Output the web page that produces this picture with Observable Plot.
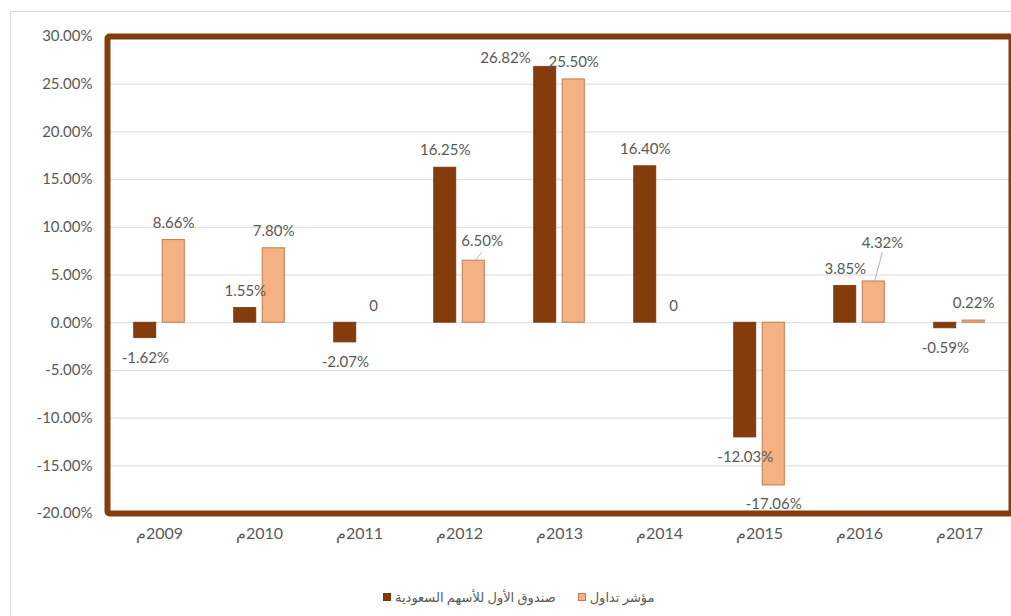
<!DOCTYPE html>
<html>
<head>
<meta charset="utf-8">
<script src="https://cdn.jsdelivr.net/npm/d3@7"></script>
<script src="https://cdn.jsdelivr.net/npm/@observablehq/plot@0.6"></script>
<style>
  html, body { margin: 0; padding: 0; background: #fff; overflow: hidden; }
  #wrap { position: relative; width: 1011px; height: 616px; font-family: Lato, "DejaVu Sans", sans-serif; color: #595959; }
  #outer { position: absolute; left: 10px; top: 11px; width: 1010px; height: 610px; border-top: 1px solid #d9d9d9; border-left: 1px solid #d9d9d9; }
  #chart { position: absolute; left: 0; top: 0; }
  #chart g[aria-label="x-axis tick label"] { font-size: 16px; }
  #legend { position: absolute; left: 383px; top: 587px; height: 20px; display: flex; align-items: center; font-size: 13px; white-space: nowrap; }
  #legend .sw { display: inline-block; width: 8px; height: 8px; box-sizing: border-box; margin-right: 4px; }
  #legend .item { display: flex; align-items: center; }
  #legend .item + .item { margin-left: 22px; }
</style>
</head>
<body>
<div id="wrap">
  <div id="outer"></div>
  <div id="chart"></div>
  <div id="legend"></div>
</div>
<script>
const years = ["2009م", "2010م", "2011م", "2012م", "2013م", "2014م", "2015م", "2016م", "2017م"];
const fundName = "صندوق الأول للأسهم السعودية";
const indexName = "مؤشر تداول";
const fundValues = [-1.62, 1.55, -2.07, 16.25, 26.82, 16.40, -12.03, 3.85, -0.59];
const indexValues = [8.66, 7.80, 0, 6.50, 25.50, 0, -17.06, 4.32, 0.22];
const yTicks = [-20, -15, -10, -5, 0, 5, 10, 15, 20, 25, 30];

const darkColor = "#843C0C";
const lightColor = "#F4B183";

const fundRows = years.map((year, i) => ({year, series: fundName, value: fundValues[i]}));
const indexRows = years.map((year, i) => ({year, series: indexName, value: indexValues[i]}));

const fmt = d => d.value === 0 ? "0" : d.value.toFixed(2) + "%";
const labelFill = "#595959";
const off = 14.2;

const leaderShape = { draw(ctx, l) { ctx.moveTo(0, 0); ctx.lineTo(0, -l); } };

const chart = Plot.plot({
  width: 1011,
  height: 560,
  marginLeft: 107,
  marginRight: 0,
  marginTop: 36,
  marginBottom: 47,
  style: { fontFamily: "Lato, 'DejaVu Sans', sans-serif", fontSize: "15px", color: "#595959", background: "transparent" },
  x: { domain: years, padding: 0, tickSize: 0, tickPadding: 14, label: null, tickFormat: d => "\u200F" + d },
  y: { domain: [-20, 30], ticks: yTicks, tickSize: 0, tickPadding: 15, label: null, tickFormat: d => d.toFixed(2) + "%" },
  marks: [
    Plot.ruleY(yTicks, { stroke: "#d9d9d9", strokeOpacity: 1, strokeWidth: 1 }),
    Plot.barY(fundRows, { x: "year", y: "value", fill: darkColor, stroke: "#7a3510", strokeWidth: 0.8, insetLeft: 24.7, insetRight: 53.2 }),
    Plot.barY(indexRows, { x: "year", y: "value", fill: lightColor, stroke: "#c27b4f", strokeWidth: 1, insetLeft: 53.2, insetRight: 24.7 }),
    // fund labels
    Plot.text(fundRows.filter(d => d.value >= 0 && d.year !== "2013م"), { x: "year", y: "value", text: fmt, dx: -off, dy: -17, fill: labelFill }),
    Plot.text(fundRows.filter(d => d.value < 0), { x: "year", y: "value", text: fmt, dx: -off, dy: 20, fill: labelFill }),
    Plot.text(fundRows.filter(d => d.year === "2013م"), { x: "year", y: "value", text: fmt, dx: -54, dy: -9, fill: labelFill }),
    // index labels
    Plot.text(indexRows.filter(d => d.value >= 0 && d.year !== "2012م" && d.year !== "2016م"), { x: "year", y: "value", text: fmt, dx: off, dy: -17, fill: labelFill }),
    Plot.text(indexRows.filter(d => d.value < 0), { x: "year", y: "value", text: fmt, dx: off, dy: 19, fill: labelFill }),
    Plot.text(indexRows.filter(d => d.year === "2012م"), { x: "year", y: "value", text: fmt, dx: 22.6, dy: -20, fill: labelFill }),
    Plot.text(indexRows.filter(d => d.year === "2016م"), { x: "year", y: "value", text: fmt, dx: 23, dy: -38, fill: labelFill }),
    // leader lines
    Plot.vector(indexRows.filter(d => d.year === "2012م"), { x: "year", y: "value", dx: 15.5, length: 10.7, rotate: 39, anchor: "start", stroke: "#a6a6a6", strokeWidth: 0.8, shape: leaderShape }),
    Plot.vector(indexRows.filter(d => d.year === "2016م"), { x: "year", y: "value", dx: 15, length: 30, rotate: 15, anchor: "start", stroke: "#a6a6a6", strokeWidth: 0.8, shape: leaderShape }),
    Plot.frame({ stroke: darkColor, strokeWidth: 6, rx: 2 })
  ]
});
document.getElementById("chart").appendChild(chart);

const legend = document.getElementById("legend");
[[fundName, darkColor, "#7a3510"], [indexName, lightColor, "#c27b4f"]].forEach(([name, fill, stroke]) => {
  const item = document.createElement("span");
  item.className = "item";
  const sw = document.createElement("span");
  sw.className = "sw";
  sw.style.background = fill;
  sw.style.border = "1px solid " + stroke;
  const t = document.createElement("span");
  t.textContent = name;
  item.appendChild(sw);
  item.appendChild(t);
  legend.appendChild(item);
});
</script>
</body>
</html>
